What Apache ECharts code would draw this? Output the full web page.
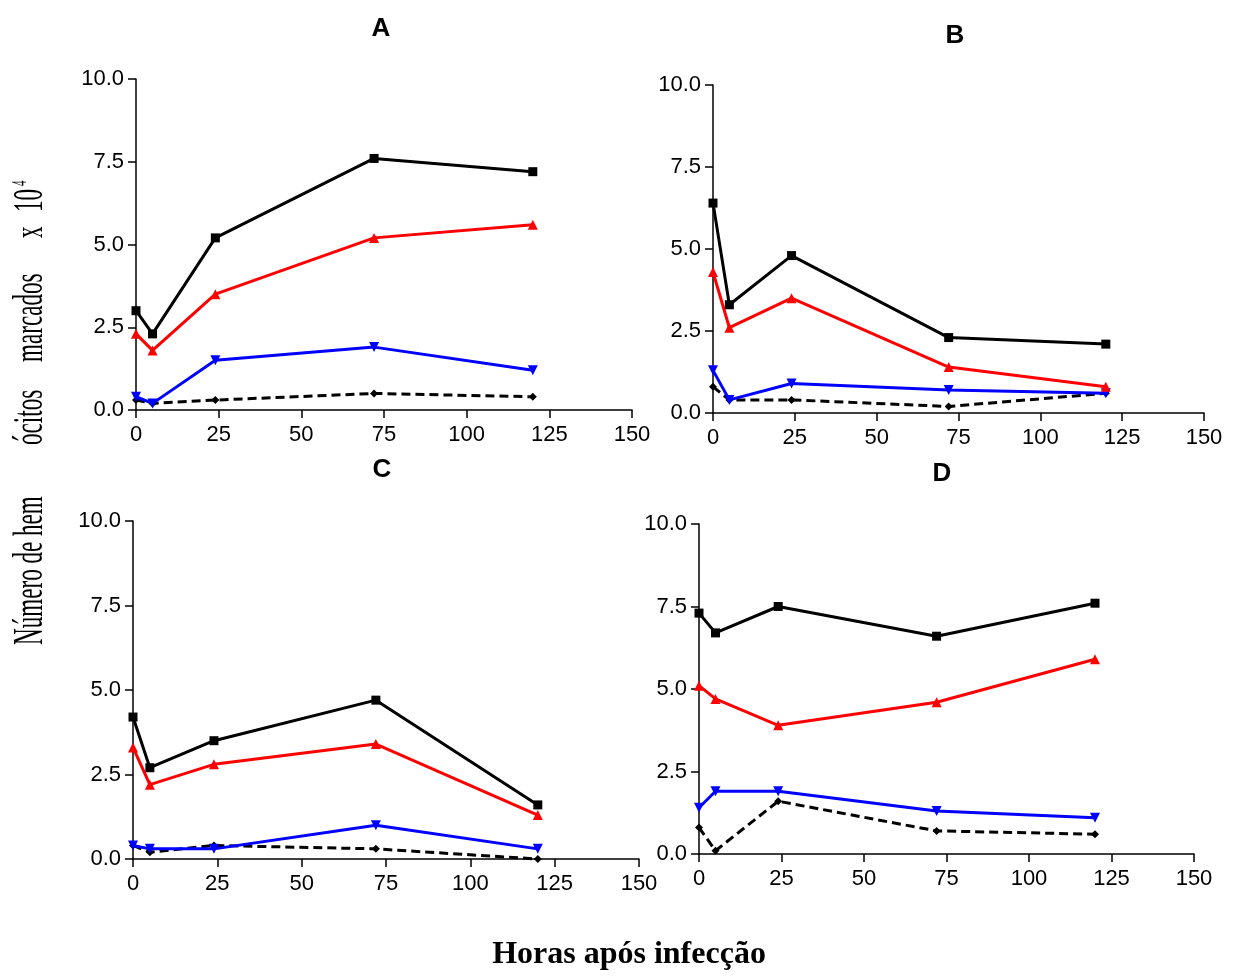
<!DOCTYPE html>
<html>
<head>
<meta charset="utf-8">
<script src="https://cdn.jsdelivr.net/npm/echarts@6/dist/echarts.min.js"></script>
<style>
  html, body { margin: 0; padding: 0; background: #fff; }
  #chart { width: 1237px; height: 976px; }
</style>
</head>
<body>
<div id="chart"></div>
<script>
// Hours after infection (shared x values)
const hours = [0, 5, 24, 72, 120];
const xTicks = [0, 25, 50, 75, 100, 125, 150];
const yTicks = [0, 2.5, 5, 7.5, 10];

// Panel A
const aSquare   = [3.0, 2.3, 5.2, 7.6, 7.2];
const aTriUp    = [2.3, 1.8, 3.5, 5.2, 5.6];
const aTriDown  = [0.4, 0.2, 1.5, 1.9, 1.2];
const aDiamond  = [0.3, 0.2, 0.3, 0.5, 0.4];
// Panel B
const bSquare   = [6.4, 3.3, 4.8, 2.3, 2.1];
const bTriUp    = [4.3, 2.6, 3.5, 1.4, 0.8];
const bTriDown  = [1.3, 0.4, 0.9, 0.7, 0.6];
const bDiamond  = [0.8, 0.4, 0.4, 0.2, 0.6];
// Panel C
const cSquare   = [4.2, 2.7, 3.5, 4.7, 1.6];
const cTriUp    = [3.3, 2.2, 2.8, 3.4, 1.3];
const cTriDown  = [0.4, 0.3, 0.3, 1.0, 0.3];
const cDiamond  = [0.4, 0.2, 0.4, 0.3, 0.0];
// Panel D
const dSquare   = [7.3, 6.7, 7.5, 6.6, 7.6];
const dTriUp    = [5.1, 4.7, 3.9, 4.6, 5.9];
const dTriDown  = [1.4, 1.9, 1.9, 1.3, 1.1];
const dDiamond  = [0.8, 0.1, 1.6, 0.7, 0.6];

const panelTitles = ['A', 'B', 'C', 'D'];
const panelData = [
  [aSquare, aTriUp, aTriDown, aDiamond],
  [bSquare, bTriUp, bTriDown, bDiamond],
  [cSquare, cTriUp, cTriDown, cDiamond],
  [dSquare, dTriUp, dTriDown, dDiamond]
];

// Vertical axis title, set in spaced-out pieces (bottom to top)
const yTitlePieces = ['Número de hem', 'ócitos', 'marcados', 'x', '10'];
const yTitleSup = '4';
const xAxisTitle = 'Horas após infecção';

// Plot rectangles for the four panels
const grids = [
  { left: 136, top: 79,  width: 496, height: 331 },
  { left: 713, top: 85,  width: 491, height: 328 },
  { left: 133, top: 521, width: 506, height: 338 },
  { left: 699, top: 524, width: 495, height: 330 }
];
const titlePos = [
  { x: 381, y: 29 },
  { x: 955, y: 36 },
  { x: 382, y: 470 },
  { x: 942, y: 474 }
];
// Start (lower end) of each rotated title piece
const yTitleStarts = [645, 445, 362, 238, 212];

const seriesStyles = [
  { color: '#000000', symbol: 'rect', size: 9, dashed: false },
  { color: '#ff0000', symbol: 'triangle', size: 10, dashed: false },
  { color: '#0000ff', symbol: 'path://M0,0 L10,0 L5,9 Z', size: 10, dashed: false },
  { color: '#000000', symbol: 'diamond', size: 8, dashed: true }
];

const sansFont = 'Liberation Sans, Arial, sans-serif';
const serifFont = 'Liberation Serif, Times New Roman, serif';
const axisFont = { fontFamily: sansFont, fontSize: 22, color: '#000' };

// Panel letters
const panelLetterGraphics = panelTitles.map((t, i) => ({
  type: 'text',
  x: titlePos[i].x, y: titlePos[i].y,
  style: { text: t, fontFamily: sansFont, fontWeight: 'bold', fontSize: 26, fill: '#000', align: 'center', verticalAlign: 'middle' }
}));

const yTitleGraphics = yTitlePieces.map((t, i) => ({
  type: 'text',
  x: 31, y: yTitleStarts[i],
  rotation: Math.PI / 2,
  scaleX: 0.55,
  style: { text: t, fontFamily: serifFont, fontSize: 42, fill: '#000', align: 'left', verticalAlign: 'middle' }
}));
yTitleGraphics.push({
  type: 'text',
  x: 21, y: 186,
  rotation: Math.PI / 2,
  scaleX: 0.55,
  style: { text: yTitleSup, fontFamily: serifFont, fontSize: 20, fill: '#000', align: 'left', verticalAlign: 'middle' }
});

const option = {
  backgroundColor: '#fff',
  animation: false,
  grid: grids.map(g => Object.assign({ containLabel: false }, g)),
  xAxis: grids.map((g, i) => ({
    type: 'value',
    gridIndex: i,
    min: 0, max: 150, interval: 25,
    axisLine: { show: true, lineStyle: { color: '#000', width: 1.5 } },
    axisTick: { show: true, length: 8, lineStyle: { color: '#000', width: 1.5 } },
    axisLabel: Object.assign({ margin: 14, formatter: v => xTicks.includes(v) ? String(v) : '' }, axisFont),
    splitLine: { show: false }
  })),
  yAxis: grids.map((g, i) => ({
    type: 'value',
    gridIndex: i,
    min: 0, max: 10, interval: 2.5,
    axisLine: { show: true, onZero: false, lineStyle: { color: '#000', width: 1.5 } },
    axisTick: { show: true, length: 8, lineStyle: { color: '#000', width: 1.5 } },
    axisLabel: Object.assign({ margin: 12, formatter: v => yTicks.includes(v) ? v.toFixed(1) : '' }, axisFont),
    splitLine: { show: false }
  })),
  series: [],
  graphic: panelLetterGraphics.concat(yTitleGraphics, [
    {
      type: 'text',
      x: 629, y: 955,
      style: {
        text: xAxisTitle,
        fontFamily: serifFont,
        fontWeight: 'bold',
        fontSize: 32,
        fill: '#000',
        align: 'center',
        verticalAlign: 'middle'
      }
    }
  ])
};

panelData.forEach((sets, gi) => {
  sets.forEach((vals, si) => {
    const st = seriesStyles[si];
    option.series.push({
      type: 'line',
      xAxisIndex: gi,
      yAxisIndex: gi,
      data: hours.map((h, k) => [h, vals[k]]),
      symbol: st.symbol,
      symbolSize: st.size,
      showSymbol: true,
      clip: false,
      z: 10 - si,
      itemStyle: { color: st.color },
      lineStyle: { color: st.color, width: 3, type: st.dashed ? [9, 5] : 'solid' }
    });
  });
});

const chart = echarts.init(document.getElementById('chart'), null, { renderer: 'canvas' });
chart.setOption(option);
</script>
</body>
</html>
